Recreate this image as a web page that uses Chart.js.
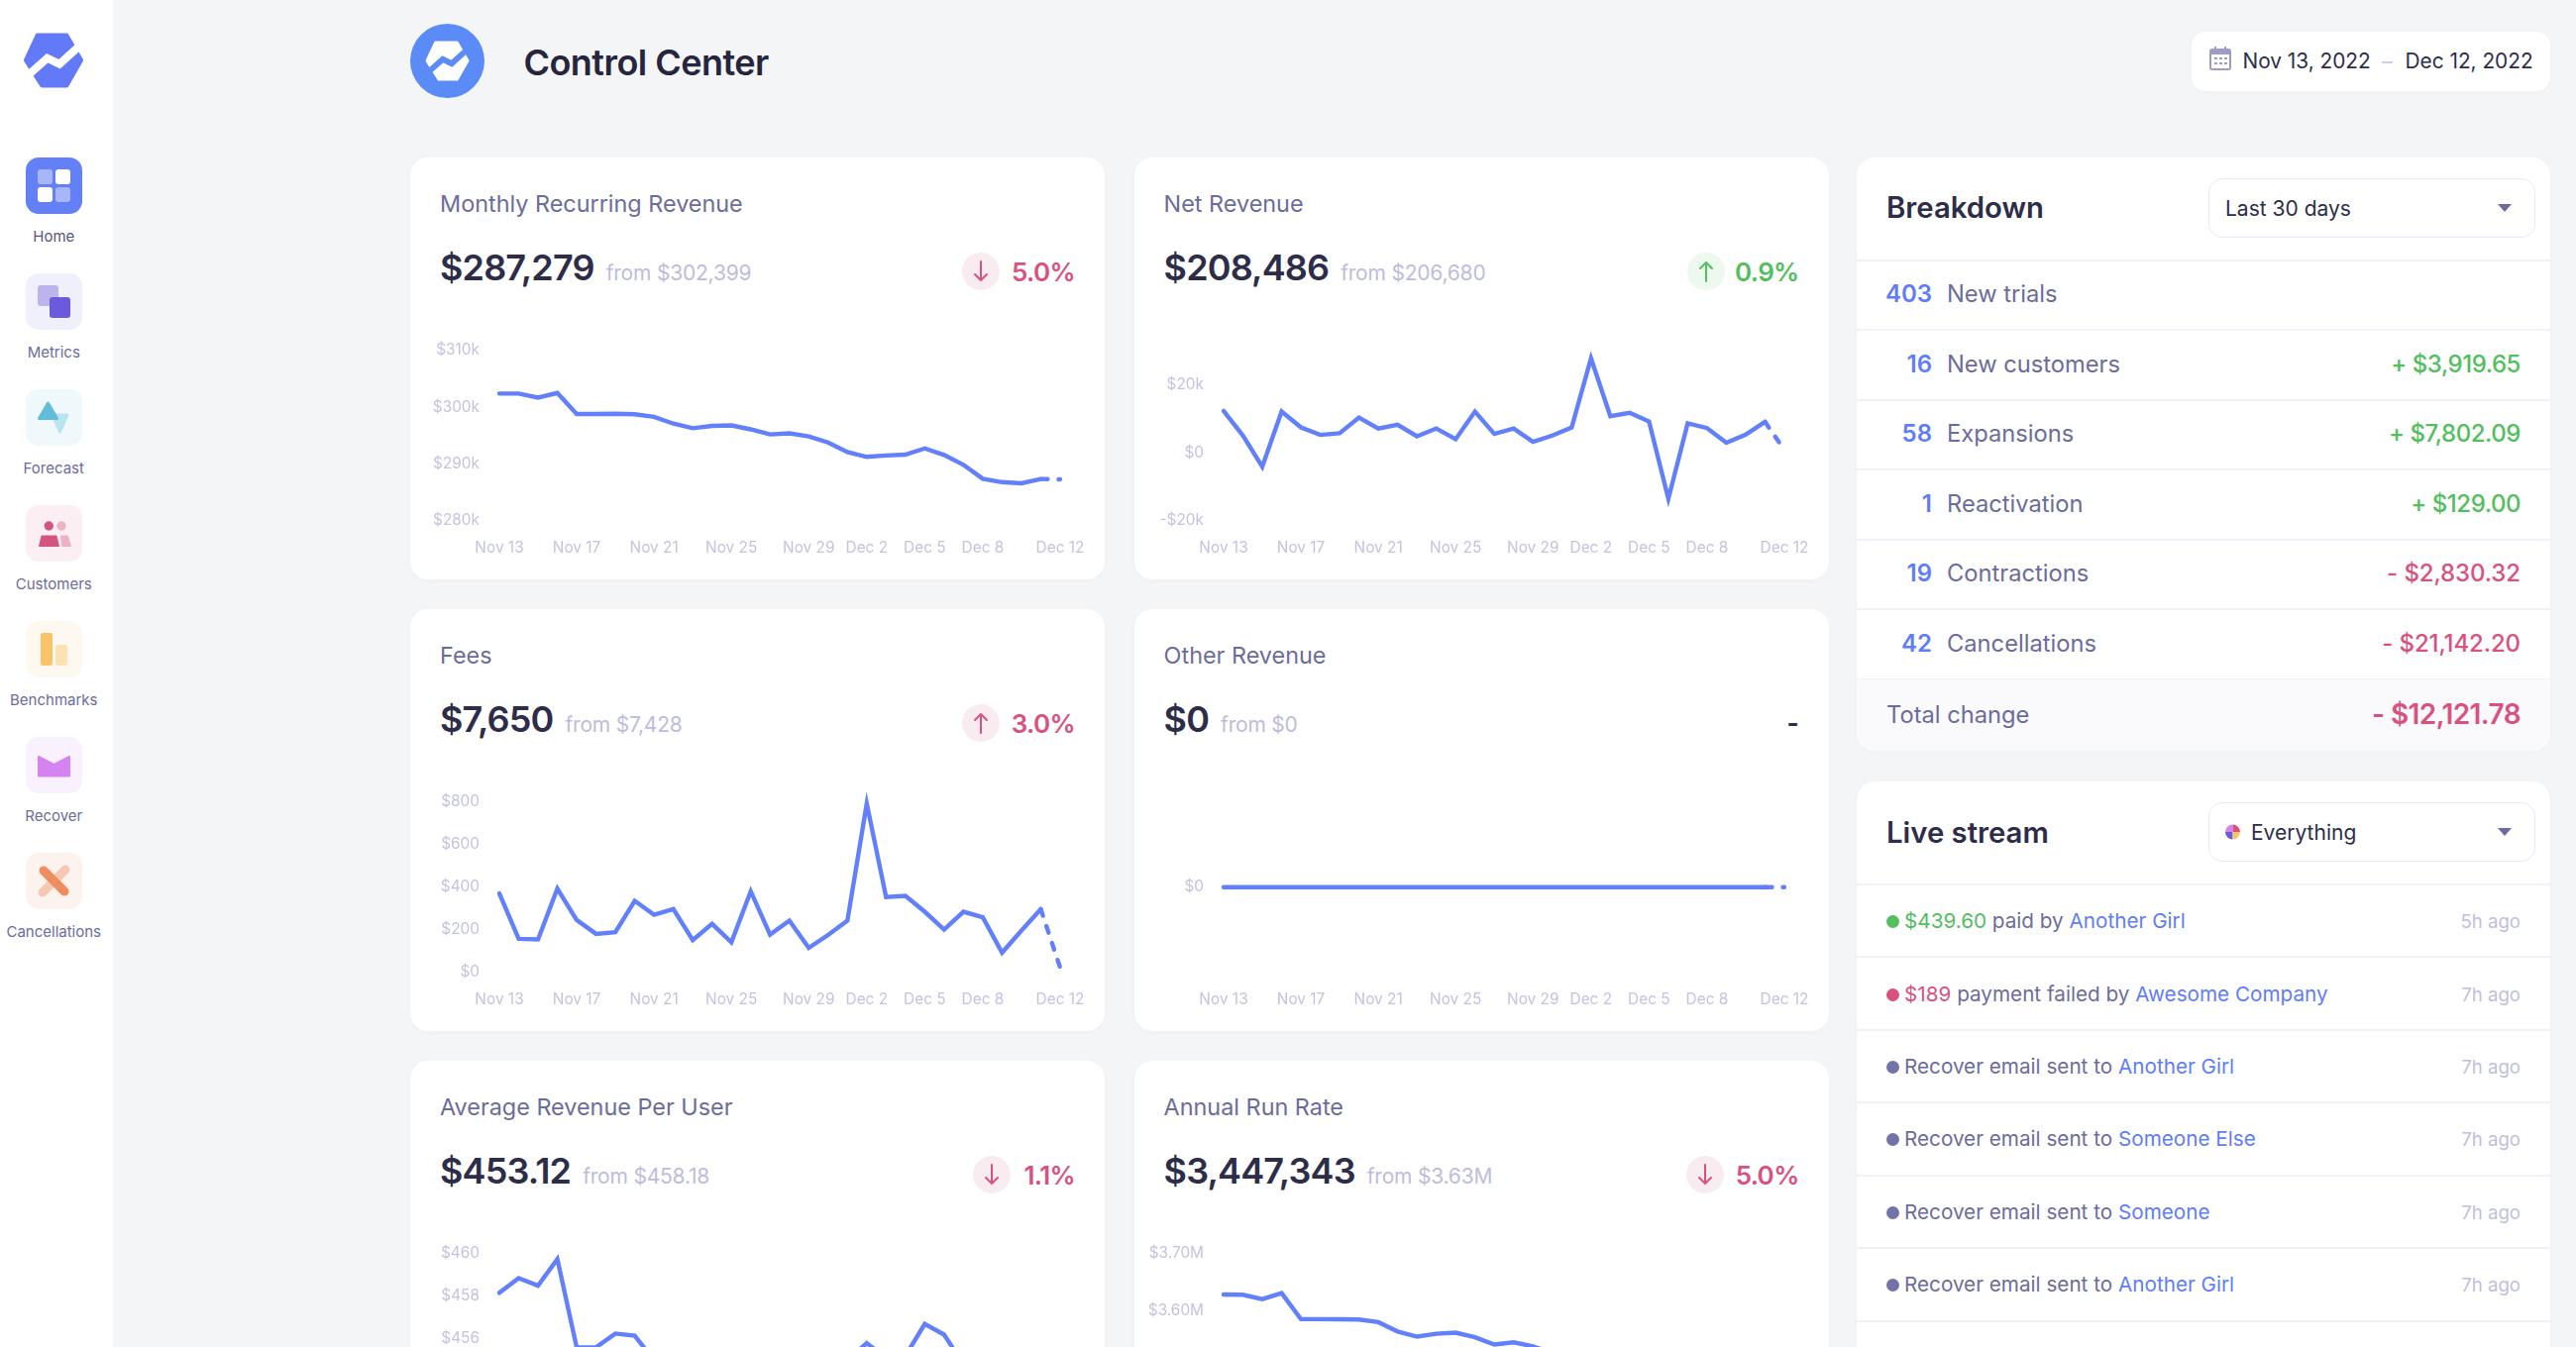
<!DOCTYPE html>
<html><head><meta charset="utf-8">
<script src="https://cdn.jsdelivr.net/npm/chart.js@4"></script>
<style>
*{box-sizing:border-box;margin:0;padding:0}
html,body{width:2600px;height:1360px;overflow:hidden;background:#f4f5f7;font-family:Inter,sans-serif;-webkit-font-smoothing:antialiased}
.abs,.card,.side,svg.over{position:absolute}
.side{left:0;top:0;width:114px;height:1360px;background:#fff}
svg.over{left:0;top:0;pointer-events:none}
.navlab{position:absolute;left:0;width:108.5px;text-align:center;font-size:15px;color:#6b6b9f;line-height:18px}
.title{position:absolute;left:528.5px;top:38px;font-size:36px;font-weight:600;color:#25253d;line-height:50px;letter-spacing:-.55px}
.card{background:#fff;border-radius:18px;overflow:hidden;box-shadow:0 1px 4px rgba(60,60,110,.03)}
.mt{position:absolute;left:30px;top:31px;font-size:23.4px;line-height:32px;color:#6c6c9c}
.mv{position:absolute;left:30px;top:88px;display:flex;align-items:baseline;gap:12px;white-space:nowrap}
.mv b{font-size:36px;font-weight:600;color:#2d2d4a;line-height:46px;letter-spacing:-.85px}
.mv span{font-size:21px;color:#bdbcdc;letter-spacing:-.2px}
.pct{position:absolute;right:30px;top:98px;font-size:26px;font-weight:600;line-height:36px;letter-spacing:-.65px}
.badge{position:absolute;top:96px;width:38px;height:38px;border-radius:50%}
.dash{position:absolute;right:30px;top:97px;font-size:26px;font-weight:700;color:#2d2d4a;line-height:36px}
.card canvas{position:absolute;left:0;top:170px}
.h2{position:absolute;left:30px;font-size:29.3px;font-weight:600;color:#2d2d4a;line-height:40px}
.sel{position:absolute;left:355px;width:330px;height:60px;border:1.5px solid #e8e8f8;border-radius:14px;background:#fff;font-size:21px;color:#2d2d4a;line-height:59px;padding-left:16px}
.sel i{position:absolute;right:23px;top:25px;width:0;height:0;border-left:7.5px solid transparent;border-right:7.5px solid transparent;border-top:8px solid #6c6c9c}
.hr{position:absolute;left:0;right:0;height:1.5px;background:#f1f1f9}
.rown{position:absolute;width:76px;text-align:right;font-size:24px;font-weight:600;color:#5f7df8;line-height:32px}
.rowl{position:absolute;left:91px;font-size:23.7px;color:#6c6c9c;line-height:32px}
.rowa{position:absolute;right:30px;font-size:24px;font-weight:500;line-height:32px;letter-spacing:-.45px}
.lt{position:absolute;left:48px;font-size:20.7px;color:#6c6c9c;line-height:30px;white-space:nowrap}
.lt a{color:#5f7df8}.ld{position:absolute;left:30px;width:13px;height:13px;border-radius:50%}
.la{position:absolute;right:30px;font-size:18.6px;color:#c0bfdc;line-height:30px}
</style></head><body>
<div class="side"></div>
<div class="title">Control Center</div>
<div id="root"></div>
<script>
const days=["Nov 13","Nov 14","Nov 15","Nov 16","Nov 17","Nov 18","Nov 19","Nov 20","Nov 21","Nov 22","Nov 23","Nov 24","Nov 25","Nov 26","Nov 27","Nov 28","Nov 29","Nov 30","Dec 1","Dec 2","Dec 3","Dec 4","Dec 5","Dec 6","Dec 7","Dec 8","Dec 9","Dec 10","Dec 11","Dec 12"];
const shownDays=["Nov 13","Nov 17","Nov 21","Nov 25","Nov 29","Dec 2","Dec 5","Dec 8","Dec 12"];

const mrr=[302400,302400,301700,302500,298800,298800,298850,298750,298300,297100,296300,296700,296800,296100,295200,295400,294850,293800,292100,291250,291500,291650,292750,291600,289850,287400,286800,286600,287350,287279];
const netRevenue=[12250,5000,-4150,12050,7400,5200,5700,10300,7100,8200,4800,7100,3950,12050,5500,7100,3200,5000,7400,27700,10700,11700,9150,-13500,8600,7200,2900,5300,9050,800];
const fees=[371,158,155,393,246,181,189,336,271,297,152,228,142,381,178,243,115,176,243,793,354,359,285,201,285,259,93,197,297,23];
const otherRevenue=[0,0,0,0,0,0,0,0,0,0,0,0,0,0,0,0,0,0,0,0,0,0,0,0,0,0,0,0,0,0];
const arpu=[458.16,458.85,458.5,459.75,455.6,455.6,456.25,456.15,455.0,455.3,454.8,455.1,454.7,455.4,454.9,455.0,454.6,454.8,455.0,455.8,455.1,455.2,456.7,456.2,454.8,454.9,454.3,454.6,454.9,453.12];
const arr=[3628200,3627600,3620000,3630600,3584700,3584700,3584500,3584000,3579400,3563000,3554000,3559000,3561000,3553000,3540000,3544000,3537000,3525000,3505000,3495000,3498000,3500000,3513000,3499000,3478000,3449000,3442000,3439000,3448000,3447343];

const mrrTicks=[280000,290000,300000,310000], mrrTickLabels=["$280k","$290k","$300k","$310k"];
const netTicks=[-20000,0,20000], netTickLabels=["-$20k","$0","$20k"];
const feeTicks=[0,200,400,600,800], feeTickLabels=["$0","$200","$400","$600","$800"];
const otherTicks=[0], otherTickLabels=["$0"];
const arpuTicks=[452,454,456,458,460], arpuTickLabels=["$452","$454","$456","$458","$460"];
const arrTicks=[3400000,3500000,3600000,3700000], arrTickLabels=["$3.40M","$3.50M","$3.60M","$3.70M"];

const breakdownCounts=["403","16","58","1","19","42"];
const breakdownNames=["New trials","New customers","Expansions","Reactivation","Contractions","Cancellations"];
const breakdownAmounts=["","+ $3,919.65","+ $7,802.09","+ $129.00","- $2,830.32","- $21,142.20"];

const GREEN="#52be5e",PINK="#d9517f",LINE="#6280f9";
const metrics=[
 {t:"Monthly Recurring Revenue",v:"$287,279",f:"from $302,399",p:"5.0%",dir:"d",c:PINK,bg:"#f9ecf1",x:414,y:159,d:mrr,tk:mrrTicks,tl:mrrTickLabels,min:280000,max:310000,bw:60},
 {t:"Net Revenue",v:"$208,486",f:"from $206,680",p:"0.9%",dir:"u",c:GREEN,bg:"#edf8ee",x:1144.6,y:159,d:netRevenue,tk:netTicks,tl:netTickLabels,min:-20000,max:30000,bw:59},
 {t:"Fees",v:"$7,650",f:"from $7,428",p:"3.0%",dir:"u",c:PINK,bg:"#f9ecf1",x:414,y:615,d:fees,tk:feeTicks,tl:feeTickLabels,min:0,max:800,bw:60},
 {t:"Other Revenue",v:"$0",f:"from $0",p:null,x:1144.6,y:615,d:otherRevenue,tk:otherTicks,tl:otherTickLabels,min:-1,max:1},
 {t:"Average Revenue Per User",v:"$453.12",f:"from $458.18",p:"1.1%",dir:"d",c:PINK,bg:"#f9ecf1",x:414,y:1071,d:arpu,tk:arpuTicks,tl:arpuTickLabels,min:452,max:460,bw:49},
 {t:"Annual Run Rate",v:"$3,447,343",f:"from $3.63M",p:"5.0%",dir:"d",c:PINK,bg:"#f9ecf1",x:1144.6,y:1071,d:arr,tk:arrTicks,tl:arrTickLabels,min:3400000,max:3700000,bw:60}
];
const root=document.getElementById('root');
function el(parent,cls,html,style){const e=document.createElement('div');e.className=cls;if(html!=null)e.innerHTML=html;if(style)e.style.cssText=style;parent.appendChild(e);return e;}
const arrow=(dir,c)=>`<svg width="38" height="38" viewBox="0 0 38 38" style="display:block"><path d="${dir==='d'?'M19 9V28M13 22L19 28L25 22':'M19 29V10M13 16L19 10L25 16'}" fill="none" stroke="${c}" stroke-width="2" stroke-linecap="round" stroke-linejoin="round"/></svg>`;

metrics.forEach(m=>{
 const c=el(root,'card',null,`left:${m.x}px;top:${m.y}px;width:701px;height:426px`);
 el(c,'mt',m.t);
 el(c,'mv',`<b>${m.v}</b><span>${m.f}</span>`);
 if(m.p){
  el(c,'pct',m.p,`color:${m.c}`);
  el(c,'badge',arrow(m.dir,m.c),`background:${m.bg};right:${30+m.bw+16}px`);
 } else el(c,'dash','-');
 const cv=document.createElement('canvas');cv.width=701;cv.height=256;cv.style.width='701px';cv.style.height='256px';c.appendChild(cv);
 new Chart(cv,{type:'line',
  data:{labels:days,datasets:[{data:m.d,borderColor:LINE,borderWidth:4.4,pointRadius:0,pointHoverRadius:0,tension:0,fill:false,clip:false,
   borderCapStyle:'round',borderJoinStyle:'miter',
   segment:{borderDash:s=>s.p1DataIndex===days.length-1?[7,11]:undefined}}]},
  options:{responsive:false,animation:false,devicePixelRatio:1,
   layout:{padding:{left:0,right:45,top:24.8,bottom:0}},
   plugins:{legend:{display:false},tooltip:{enabled:false}},
   scales:{
    x:{type:'category',offset:false,grid:{display:false,drawTicks:false},border:{display:false},
     afterFit:s=>{s.height=59.2},
     ticks:{autoSkip:false,maxRotation:0,minRotation:0,padding:18.7,color:'#c4c3df',font:{family:'Inter',size:15.4},
      callback(v,i){const l=this.getLabelForValue(v);return shownDays.includes(l)?l:''}}},
    y:{type:'linear',min:m.min,max:m.max,grid:{display:false,drawTicks:false},border:{display:false},
     afterFit:s=>{s.width=90;s.paddingTop=0;s.paddingBottom=0},
     afterBuildTicks:s=>{s.ticks=m.tk.map(v=>({value:v}))},
     ticks:{padding:20,color:'#c4c3df',font:{family:'Inter',size:15.4},
      callback:(v)=>m.tl[m.tk.indexOf(v)]}}
   }}});
});

// Breakdown
const bd=el(root,'card',null,'left:1874px;top:159px;width:700px;height:599px');
el(bd,'h2','Breakdown','top:30.5px');
el(bd,'sel','Last 30 days<i></i>','top:21px');
[103,173,244,314,385,455,526].forEach(y=>el(bd,'hr',null,`top:${y}px`));
el(bd,'',null,'position:absolute;left:0;right:0;top:527px;bottom:0;background:#fafafd');
const rowY=[138,209,279,350,420,491];
breakdownNames.forEach((n,i)=>{
 el(bd,'rown',breakdownCounts[i],`left:0;top:${rowY[i]-16}px`);
 el(bd,'rowl',n,`top:${rowY[i]-16}px`);
 if(breakdownAmounts[i]) el(bd,'rowa',breakdownAmounts[i],`top:${rowY[i]-16}px;color:${i<4?GREEN:PINK}${i>=4?';letter-spacing:-.1px':''}`);
});
el(bd,'rowl','Total change','left:30px;top:547px');
el(bd,'rowa','- $12,121.78',`top:546px;color:${PINK};font-size:28px;font-weight:600;letter-spacing:-.6px`);

// Live stream
const ls=el(root,'card',null,'left:1874px;top:789px;width:700px;height:700px');
el(ls,'h2','Live stream','top:32px');
el(ls,'sel','<span style="margin-left:26px">Everything</span><i></i>','top:21px');
[103,176,250,323,397,470,544].forEach(y=>el(ls,'hr',null,`top:${y}px`));
const streamLeads=['<span style="color:#52be5e">$439.60</span> paid by ','<span style="color:#d9517f">$189</span> payment failed by ','Recover email sent to ','Recover email sent to ','Recover email sent to ','Recover email sent to '];
const streamNames=["Another Girl","Awesome Company","Another Girl","Someone Else","Someone","Another Girl"];
const streamAges=["5h ago","7h ago","7h ago","7h ago","7h ago","7h ago"];
const streamDots=[GREEN,PINK,"#7473a8","#7473a8","#7473a8","#7473a8"];
const streamY=[141,214.5,288,361,435,508];
streamNames.forEach((n,i)=>{
 el(ls,'ld',null,`top:${streamY[i]-6}px;background:${streamDots[i]}`);
 el(ls,'lt',`${streamLeads[i]}<a>${n}</a>`,`top:${streamY[i]-15}px`);
 el(ls,'la',streamAges[i],`top:${streamY[i]-15}px`);
});

// Date pill
const dp=el(root,'card',null,'left:2211.6px;top:32px;width:362.4px;height:60px;border-radius:14px;font-size:20.8px;color:#2d2d4a;line-height:60px');
el(dp,'',"Nov 13, 2022",'position:absolute;left:52px;white-space:nowrap');
el(dp,'',null,'position:absolute;left:192px;top:30px;width:11px;height:2px;background:#cfcfe6');
el(dp,'',"Dec 12, 2022",'position:absolute;left:216px;white-space:nowrap');

// Sidebar labels
const navNames=["Home","Metrics","Forecast","Customers","Benchmarks","Recover","Cancellations"];
const navTops=[159,276,393,510,627,744,861];
navNames.forEach((n,i)=>el(document.body,'navlab',n,`top:${navTops[i]+71}px;color:${i===0?'#55557f':'#6b6b9f'}`));

// Icons (page decoration, not chart marks)
const hexPath="M38 36L67 36L81.5 60.7L67 86L42.5 86L26.5 60.7Z";
const zig="M26 78L47.7 58.7L60 64.7L82 44.7";
const box=(y,c)=>`<rect x="26" y="${y}" width="57" height="57" rx="13" fill="${c}"/>`;
let s=`<svg class="over" width="2600" height="1360" viewBox="0 0 2600 1360">`;
s+=`<path d="${hexPath}" fill="#6279f8" stroke="#6279f8" stroke-width="5" stroke-linejoin="round"/><path d="${zig}" fill="none" stroke="#fff" stroke-width="8"/>`;
s+=`<circle cx="451.5" cy="61.5" r="37.5" fill="#5b8bf7"/><g transform="translate(451.5 61.5) scale(.73) translate(-54 -61)"><path d="${hexPath}" fill="#fff" stroke="#fff" stroke-width="5" stroke-linejoin="round"/><path d="${zig}" fill="none" stroke="#5b8bf7" stroke-width="8"/></g>`;
s+=box(159,"#6380f7")+`<rect x="38" y="171" width="15" height="15" rx="3" fill="#a7b5fa"/><rect x="56" y="171" width="15" height="15" rx="3" fill="#fff"/><rect x="38" y="189" width="15" height="15" rx="3" fill="#fff"/><rect x="56" y="189" width="15" height="15" rx="3" fill="#a7b5fa"/>`;
s+=box(276,"#f0effc")+`<rect x="38" y="288" width="21" height="21" rx="3" fill="#bdb4ee"/><rect x="50" y="300" width="21" height="21" rx="3" fill="#6b5bdc"/>`;
s+=box(393,"#eff8fb")+`<path d="M53 419H68L60.5 436Z" fill="#b9e3ef" stroke="#b9e3ef" stroke-width="3" stroke-linejoin="round"/><path d="M48.5 407L57.5 422.5H39.5Z" fill="#63bcd9" stroke="#63bcd9" stroke-width="3" stroke-linejoin="round"/>`;
s+=box(510,"#fbeff3")+`<circle cx="49.3" cy="531" r="4.7" fill="#d4567f"/><circle cx="62" cy="531" r="4.7" fill="#edb2c8"/><path d="M42 541H57L59.5 551.5H39.5Z" fill="#d4567f" stroke="#d4567f" stroke-linejoin="round"/><path d="M61.5 541H68.5L71.5 551.5H62.5Z" fill="#edb2c8" stroke="#edb2c8" stroke-linejoin="round"/>`;
s+=box(627,"#fdf8f0")+`<rect x="41" y="639" width="12" height="33" rx="2.5" fill="#f9c468"/><rect x="56" y="651" width="12" height="21" rx="2.5" fill="#fae2b3"/>`;
s+=box(744,"#f9f2fe")+`<path d="M39 764L54.5 772L70 764V783.5H39Z" fill="#d583f1" stroke="#d583f1" stroke-width="2" stroke-linejoin="round"/>`;
s+=box(861,"#fdf3ee")+`<path d="M66 878L43 901" stroke="#f6c9b3" stroke-width="9" stroke-linecap="round"/><path d="M44 879L65 900" stroke="#ee8e60" stroke-width="9" stroke-linecap="round"/>`;
s+=`<g fill="none" stroke="#9d9cc6" stroke-width="2"><rect x="2231" y="50" width="20" height="20" rx="2"/></g><rect x="2231" y="50" width="20" height="5" fill="#9d9cc6"/><path d="M2236 47V51M2246 47V51" stroke="#9d9cc6" stroke-width="2"/><path d="M2235 59h3M2240 59h3M2245 59h3M2235 64h3M2240 64h3M2245 64h3" stroke="#9d9cc6" stroke-width="2"/>`;
s+=`<path d="M2246 840A7.5 7.5 0 0 1 2253.5 832.5V840Z" fill="#d583f1"/><path d="M2253.5 832.5A7.5 7.5 0 0 1 2261 840H2253.5Z" fill="#d9517f"/><path d="M2246 840H2253.5V847.5A7.5 7.5 0 0 1 2246 840Z" fill="#6b5bdc"/><path d="M2253.5 840H2261A7.5 7.5 0 0 1 2253.5 847.5Z" fill="#f9c468"/>`;
s+=`</svg>`;
document.body.insertAdjacentHTML('beforeend',s);
</script>
</body></html>
